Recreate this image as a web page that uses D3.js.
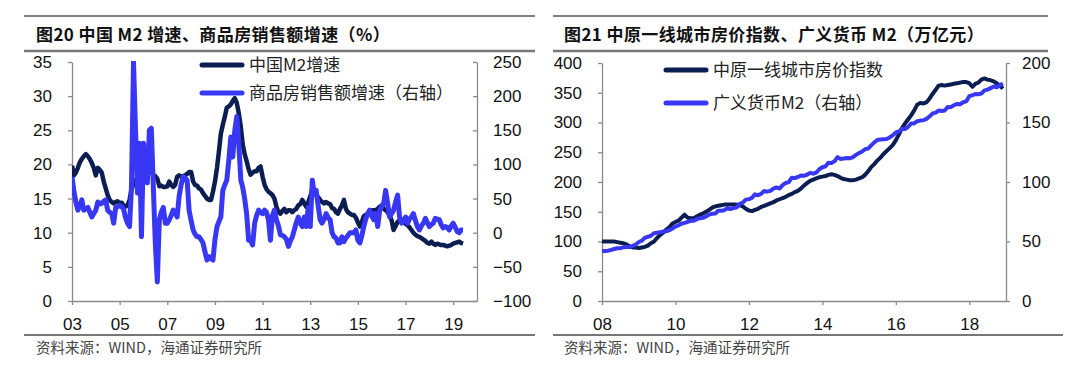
<!DOCTYPE html>
<html><head><meta charset="utf-8">
<script src="https://cdn.jsdelivr.net/npm/d3@7"></script>
<style>body{margin:0;background:#fff;} svg{display:block;}</style>
</head><body><svg id="c" width="1080" height="377"></svg>
<script>
// ---------- Left chart data (monthly, from 2003-01) ----------
const leftStart = "2003-01";
const m2Growth = [
19.8,18.4,18.8,19.5,20.3,20.8,21.2,21.5,21.2,20.8,20.2,19.5,
18.4,19.5,19.2,18.8,17.5,16.5,15.5,14.8,14.5,14.3,14.5,14.6,
14.3,14.4,14.0,13.8,14.0,14.8,16.3,17.2,17.7,18.0,18.2,18.0,
18.8,18.6,18.8,18.9,19.1,18.4,18.3,17.9,16.8,16.9,16.7,16.7,
16.8,17.5,17.0,16.7,17.0,18.2,18.4,18.2,18.3,18.4,18.6,18.9,
18.9,17.5,17.0,16.9,16.5,16.3,15.8,15.4,15.0,14.8,14.8,16.0,
17.5,19.5,21.8,24.5,25.8,27.0,28.3,28.5,28.8,29.3,29.7,29.0,
27.5,25.5,23.0,21.5,20.5,19.3,18.5,18.8,19.0,19.0,19.5,19.7,
18.2,17.0,16.4,16.0,15.8,15.5,15.0,13.8,13.0,12.8,13.2,13.5,
13.0,13.3,13.3,13.0,13.3,13.5,14.0,14.2,14.8,14.3,13.8,14.5,
15.3,16.3,15.8,15.5,15.2,14.8,14.5,14.3,14.5,14.3,14.2,13.6,
13.5,13.0,12.8,13.5,14.0,14.8,13.5,13.0,12.8,12.6,12.6,12.2,
11.5,10.9,11.5,12.4,12.6,12.8,13.3,13.3,13.3,13.3,13.5,13.8,
14.0,13.5,13.3,13.0,12.5,11.8,10.4,11.0,11.6,11.8,11.7,11.6,
11.3,11.1,10.8,10.4,10.0,9.7,9.5,9.4,9.2,9.0,8.8,8.5,
8.4,8.7,8.4,8.2,8.4,8.3,8.2,8.2,8.1,8.0,8.1,8.2,
8.4,8.5,8.6,8.7,8.5,8.4
];
const salesGrowth = [
82,60,45,33,40,48,33,35,37,30,23,28,
33,45,42,43,46,48,33,30,28,14,37,38,
40,38,35,22,14,9,67,250,150,58,131,-6,
131,100,73,150,153,67,-15,-72,19,30,37,14,
14,19,25,33,30,23,53,70,82,80,77,33,
18,4,-2,-6,-6,-10,-15,-28,-40,-35,-38,-40,
-10,9,16,23,62,70,77,106,140,111,150,170,
131,77,67,50,28,-11,-11,-18,14,25,33,30,
28,33,30,19,-11,25,33,19,10,-3,-4,-6,
-10,-20,-12,-6,4,15,23,14,9,23,9,37,
9,77,58,62,40,19,14,20,28,22,19,0,
-6,-8,-15,-15,-6,-13,-8,-4,0,0,0,4,
-11,-15,-5,9,20,28,33,25,19,28,9,33,
38,43,62,43,23,28,33,45,55,23,14,18,
23,14,20,23,28,18,9,4,10,14,21,15,
9,12,14,21,20,19,12,7,9,8,4,10,
14,8,2,0,4,4
];
const leftYTicks = [0,5,10,15,20,25,30,35];
const leftY2Ticks = [-100,-50,0,50,100,150,200,250];
const leftXTicks = ["2003","2005","2007","2009","2011","2013","2015","2017","2019"];
const leftSeriesNames = ["中国M2增速","商品房销售额增速（右轴）"];
const leftTitle = "图20 中国 M2 增速、商品房销售额增速（%）";

// ---------- Right chart data (monthly, from 2008-01) ----------
const rightStart = "2008-01";
const priceIndex = [
100,100,100,100,100,99,98,97,95,92,90,90,
89,90,91,93,97,100,106,111,115,120,124,130,
133,135,140,145,140,139,139,142,145,147,150,153,
157,159,160,161,162,162,162,162,162,161,159,155,
152,151,153,155,158,160,162,164,166,169,171,173,
175,178,180,183,185,189,194,198,202,204,206,208,
209,210,212,213,212,210,207,205,204,203,203,204,
206,208,212,218,225,230,236,241,247,252,257,262,
270,280,290,298,305,312,320,330,333,332,334,340,
348,355,362,363,362,363,364,365,366,367,368,368,
366,360,365,367,372,374,372,371,369,366,362,357
];
const m2Supply = [
41.8,42.1,42.3,42.9,43.7,44.3,44.4,45.1,45.3,45.4,46.3,47.5,
49.6,50.7,53.1,54.0,54.8,56.9,57.3,57.7,58.5,58.6,59.5,61.0,
62.6,63.6,64.9,65.6,66.4,67.4,67.4,68.8,69.6,69.9,71.0,72.6,
73.3,73.6,75.8,75.8,76.3,78.1,77.3,78.0,78.7,81.7,82.6,85.2,
85.6,86.7,89.6,88.9,90.0,92.5,91.9,92.5,94.4,95.4,94.5,97.4,
99.2,99.9,103.6,103.3,104.2,105.4,105.2,106.1,107.7,107.0,107.9,110.7,
112.4,113.2,116.1,116.0,117.4,120.9,119.4,119.7,120.2,119.9,120.9,122.8,
124.3,125.7,127.5,128.1,130.8,133.3,135.3,135.7,135.9,136.1,137.4,139.2,
141.6,142.5,144.6,144.5,146.2,149.1,149.2,151.1,151.6,151.9,153.0,155.0,
157.6,158.3,160.0,159.6,160.1,163.1,162.9,164.5,165.6,165.3,167.0,167.7,
172.1,172.9,173.9,173.8,174.3,177.0,177.6,178.9,180.2,179.6,181.3,182.7
];
const rightYTicks = [0,50,100,150,200,250,300,350,400];
const rightY2Ticks = [0,50,100,150,200];
const rightXTicks = ["2008","2010","2012","2014","2016","2018"];
const rightSeriesNames = ["中原一线城市房价指数","广义货币M2（右轴）"];
const rightTitle = "图21 中原一线城市房价指数、广义货币 M2（万亿元）";

const source = "资料来源：WIND，海通证券研究所";

// ---------- drawing ----------
const DARK = "#0c1d52", BLUE = "#3838f4", AXIS = "#8a8a8a";
const NUMFONT = "'Liberation Sans', Arial, sans-serif";
const CJK = "'Noto Sans CJK SC', 'Noto Sans', sans-serif";
const svg = d3.select("#c");
const parseM = d3.timeParse("%Y-%m");
const parseY = d3.timeParse("%Y");

function monthly(start, n) {
  const s = parseM(start);
  return d3.range(n).map(i => d3.timeMonth.offset(s, i));
}

function panel(o) {
  const g = svg.append("g");
  g.append("line").attr("x1", o.ruleX0).attr("x2", o.ruleX1).attr("y1", 16).attr("y2", 16)
    .attr("stroke", "#555").attr("stroke-width", 1.5);
  g.append("line").attr("x1", o.ruleX0).attr("x2", o.ruleX1).attr("y1", 51).attr("y2", 51)
    .attr("stroke", "#777").attr("stroke-width", 2.5);
  g.append("line").attr("x1", o.ruleX0).attr("x2", o.ruleX1b).attr("y1", 335).attr("y2", 335)
    .attr("stroke", "#777").attr("stroke-width", 2);
  g.append("text").attr("x", o.titleX).attr("y", 41).text(o.title)
    .attr("font-family", CJK).attr("font-weight", "bold").attr("font-size", 17)
    .attr("letter-spacing", o.titleLs).attr("fill", "#111");
  g.append("text").attr("x", o.titleX).attr("y", 353).text(source)
    .attr("font-family", CJK).attr("font-size", 14.5).attr("fill", "#444");

  const x = d3.scaleTime().domain(o.xDomain.map(parseY)).range([o.x0, o.x1]);
  const yL = d3.scaleLinear().domain(o.yL).range([301, o.yTop]);
  const yR = d3.scaleLinear().domain(o.yR).range([301, o.yTop]);

  const styleAxis = sel => {
    sel.select(".domain").attr("stroke", AXIS).attr("stroke-width", 1.3);
    sel.selectAll(".tick line").attr("stroke", AXIS).attr("stroke-width", 1.3);
    sel.selectAll("text").attr("font-family", NUMFONT).attr("font-size", 17).attr("fill", "#111");
  };
  g.append("g").attr("transform", `translate(0,301)`)
    .call(d3.axisBottom(x).tickValues(o.xTicks.map(parseY)).tickFormat(d3.timeFormat("%y"))
      .tickSize(4).tickSizeOuter(0).tickPadding(13))
    .call(styleAxis);
  g.append("g").attr("transform", `translate(${o.x0},0)`)
    .call(d3.axisLeft(yL).tickValues(o.yLTicks).tickSize(4).tickSizeOuter(0).tickPadding(16))
    .call(styleAxis);
  g.append("g").attr("transform", `translate(${o.x1},0)`)
    .call(d3.axisRight(yR).tickValues(o.yRTicks).tickSize(o.rTick).tickSizeOuter(0).tickPadding(16 - Math.max(o.rTick, 0)))
    .call(styleAxis);

  const clipId = "clip" + o.id;
  svg.append("clipPath").attr("id", clipId).append("rect")
    .attr("x", o.x0).attr("y", o.yTop - 1).attr("width", o.x1 - o.x0).attr("height", 301 - o.yTop + 6);
  const plot = g.append("g").attr("clip-path", `url(#${clipId})`);

  const d1 = monthly(o.start, o.s1.length), d2 = monthly(o.start, o.s2.length);
  plot.append("path").datum(o.s1)
    .attr("d", d3.line().x((v, i) => x(d1[i])).y(v => yL(v)))
    .attr("fill", "none").attr("stroke", DARK).attr("stroke-width", o.w1).attr("stroke-linejoin", "round");
  plot.append("path").datum(o.s2)
    .attr("d", d3.line().x((v, i) => x(d2[i])).y(v => yR(v)))
    .attr("fill", "none").attr("stroke", BLUE).attr("stroke-width", o.w2).attr("stroke-linejoin", "round");

  const lg = g.append("g");
  o.names.forEach((n, i) => {
    const yy = o.legY + i * o.legDy;
    lg.append("line").attr("x1", o.legX).attr("x2", o.legX + 40).attr("y1", yy).attr("y2", yy)
      .attr("stroke", i ? BLUE : DARK).attr("stroke-width", 5).attr("stroke-linecap", "round");
    lg.append("text").attr("x", o.legX + 47).attr("y", yy).attr("dy", "0.35em").text(n)
      .attr("font-family", CJK).attr("font-size", 17).attr("fill", "#222");
  });
}

panel({id: "L", ruleX0: 24, ruleX1: 535, ruleX1b: 535, titleX: 36, title: leftTitle, titleLs: 0.4,
  xDomain: ["2003", "2020"], x0: 72, x1: 477, yTop: 62, yL: [0, 35], yR: [-100, 250],
  xTicks: leftXTicks, yLTicks: leftYTicks, yRTicks: leftY2Ticks, rTick: -4,
  start: leftStart, s1: m2Growth, s2: salesGrowth, w1: 4.5, w2: 5,
  names: leftSeriesNames, legX: 202, legY: 65, legDy: 28});

panel({id: "R", ruleX0: 553, ruleX1: 1048, ruleX1b: 1063, titleX: 564, title: rightTitle, titleLs: 0.4,
  xDomain: ["2008", "2019"], x0: 602, x1: 1006, yTop: 63, yL: [0, 400], yR: [0, 200],
  xTicks: rightXTicks, yLTicks: rightYTicks, yRTicks: rightY2Ticks, rTick: 4,
  start: rightStart, s1: priceIndex, s2: m2Supply, w1: 4, w2: 4,
  names: rightSeriesNames, legX: 666, legY: 70, legDy: 33});
</script></body></html>
